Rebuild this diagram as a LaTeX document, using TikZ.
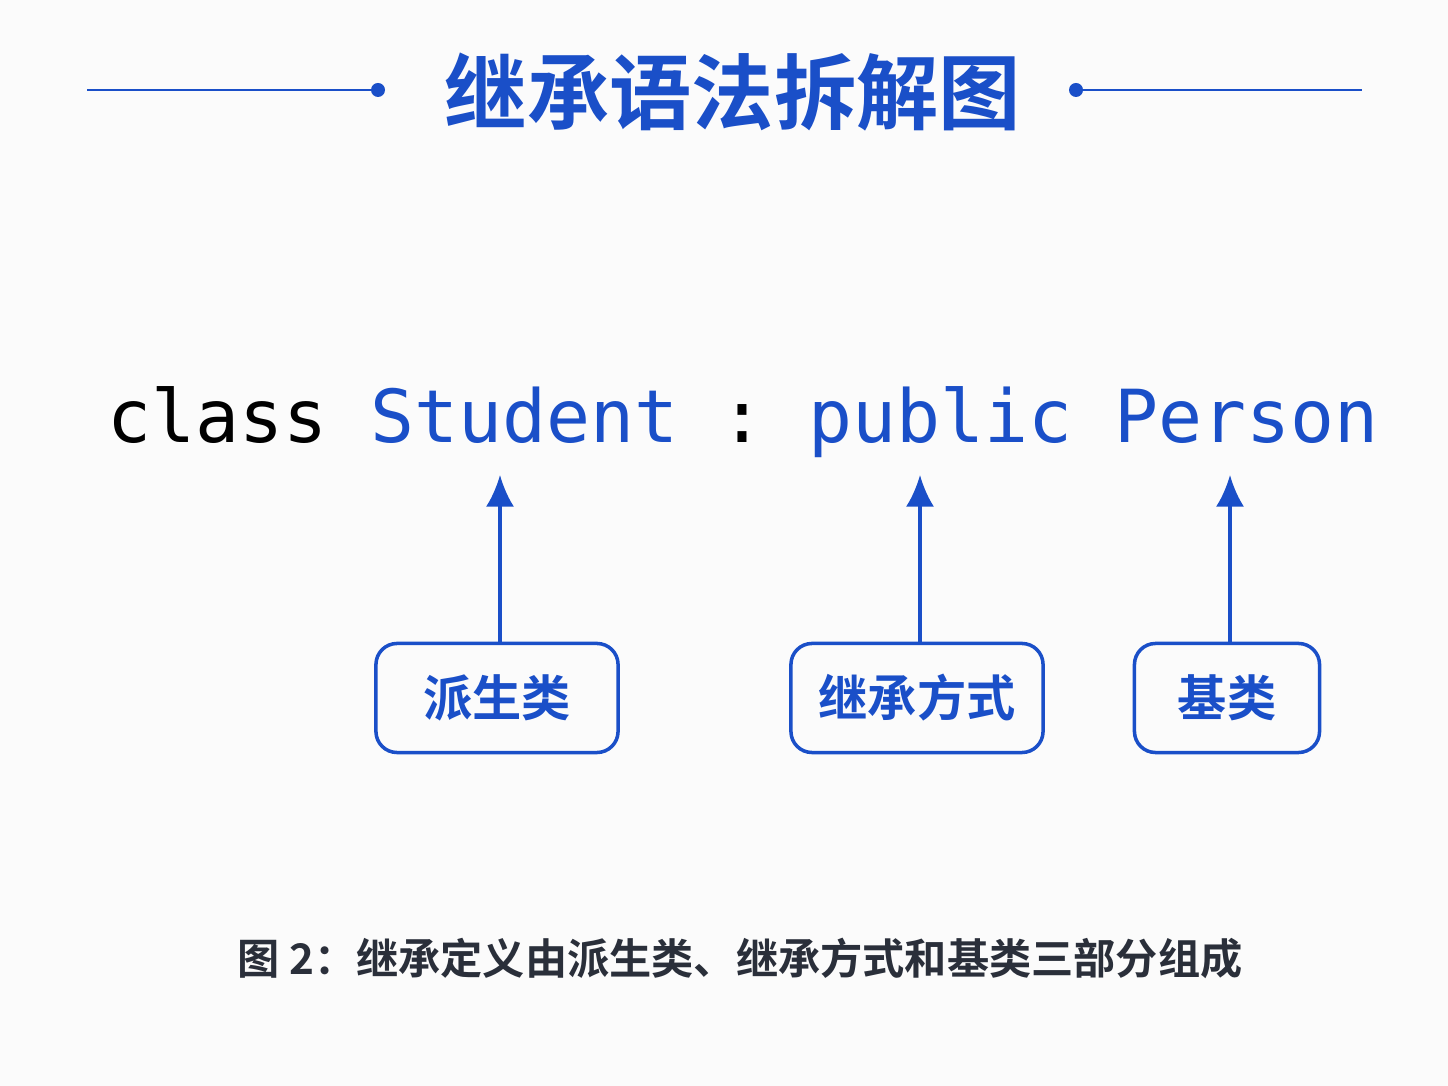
\documentclass[tikz,border=0pt]{standalone}
\usepackage{fontspec}
\setmonofont{DejaVu Sans Mono}
\newfontfamily\cjk{Noto Sans CJK SC Bold}
\usetikzlibrary{positioning, arrows.meta}
\definecolor{kblue}{HTML}{1A4FC8}
\definecolor{kgray}{HTML}{2A2F3A}
\begin{document}
\begin{tikzpicture}[x=0.01cm, y=-0.01cm,
  code/.style={anchor=base west, inner sep=0, font=\ttfamily\fontsize{20.8}{24}\selectfont},
  part/.style={draw=kblue, line width=1pt, rounded corners=6pt, text=kblue,
    minimum height=1.09cm, font=\cjk\fontsize{14}{16}\selectfont},
  tip/.style={-{Latex[length=9pt, width=8pt]}, kblue, line width=1pt}]
  \fill[white!97!gray] (0,0) rectangle (1448,1086);
  % Title
  \node[text=kblue, font=\cjk\fontsize{23.4}{26}\selectfont] (title) at (733,92) {继承语法拆解图};
  \coordinate (ldot) at (378,90);
  \coordinate (rdot) at (1076,90);
  \draw[kblue, line width=0.8pt] (87,90) -- (ldot);
  \draw[kblue, line width=0.8pt] (rdot) -- (1362,90);
  \fill[kblue] (ldot) circle (7) (rdot) circle (7);
  % Code line
  \node[code] (kw) at (107,443) {class};
  \node[code, text=kblue] (derived) at (370,443) {Student};
  \node[code] (colon) at (720,443) {:};
  \node[code, text=kblue] (mode) at (808,443) {public};
  \node[code, text=kblue] (base) at (1114,443) {Person};
  % Parts
  \node[part, minimum width=2.42cm] (pderived) at (497,698) {派生类};
  \node[part, minimum width=2.52cm] (pmode) at (917,698) {继承方式};
  \node[part, minimum width=1.85cm] (pbase) at (1227,698) {基类};
  \coordinate (tderived) at (500,475);
  \coordinate (tmode) at (920,475);
  \coordinate (tbase) at (1230,475);
  \draw[tip] (pderived.north -| tderived) -- (tderived);
  \draw[tip] (pmode.north -| tmode) -- (tmode);
  \draw[tip] (pbase.north -| tbase) -- (tbase);
  % Caption
  \node[text=kgray, font=\cjk\fontsize{12}{14}\selectfont] (caption) at (740,958) {图 2：继承定义由派生类、继承方式和基类三部分组成};
\end{tikzpicture}
\end{document}
